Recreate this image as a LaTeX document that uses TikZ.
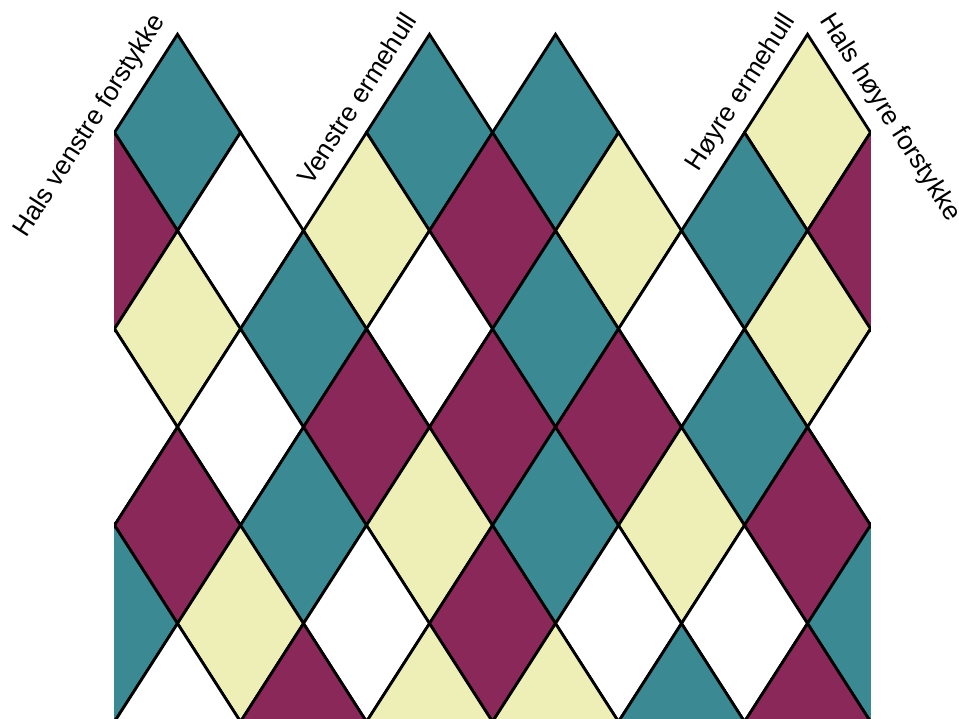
\documentclass[tikz,border=0pt]{standalone}
\usepackage{fontspec}
\setmainfont{Liberation Sans}
\definecolor{tealA}{HTML}{3A8993}
\definecolor{plumA}{HTML}{8A285A}
\definecolor{creamA}{HTML}{EDEFB7}
\begin{document}
\begin{tikzpicture}[
  tile/.style={draw=black, line width=2.8pt, line join=miter},
  lbl/.style={font=\fontsize{26.3}{31}\selectfont, inner sep=0pt}
]
\useasboundingbox (0,0) rectangle (959pt,718pt);
\begin{scope}
\clip (114.2pt,0) rectangle (870.8pt,718pt);
\begin{scope}[shift={(114.5pt,683.7pt)}, x=63pt, y=-98.2pt]
\foreach \k/\j/\c in {
  1/1/tealA, 5/1/tealA, 7/1/tealA, 11/1/creamA,
  0/2/plumA, 2/2/white, 4/2/creamA, 6/2/plumA, 8/2/creamA, 10/2/tealA, 12/2/plumA,
  1/3/creamA, 3/3/tealA, 5/3/white, 7/3/tealA, 9/3/white, 11/3/creamA,
  0/4/white, 2/4/white, 4/4/plumA, 6/4/plumA, 8/4/plumA, 10/4/tealA, 12/4/white,
  1/5/plumA, 3/5/tealA, 5/5/creamA, 7/5/tealA, 9/5/creamA, 11/5/plumA,
  0/6/tealA, 2/6/creamA, 4/6/white, 6/6/plumA, 8/6/white, 10/6/white, 12/6/tealA,
  1/7/white, 3/7/plumA, 5/7/creamA, 7/7/creamA, 9/7/tealA, 11/7/plumA}
{
  \filldraw[tile, fill=\c] (\k-1,\j) -- (\k,\j-1) -- (\k+1,\j) -- (\k,\j+1) -- cycle;
}
\end{scope}
\end{scope}
\node[lbl, rotate=57.32, anchor=base east] (hvf) at (166.0pt,697.4pt) {Hals venstre forstykke};
\node[lbl, rotate=57.32, anchor=base east] (ve) at (418.0pt,697.4pt) {Venstre ermehull};
\node[lbl, rotate=57.32, anchor=base east] (he) at (796.0pt,697.4pt) {Høyre ermehull};
\node[lbl, rotate=-57.32, anchor=base west] (hhf) at (819.0pt,697.4pt) {Hals høyre forstykke};
\end{tikzpicture}
\end{document}
